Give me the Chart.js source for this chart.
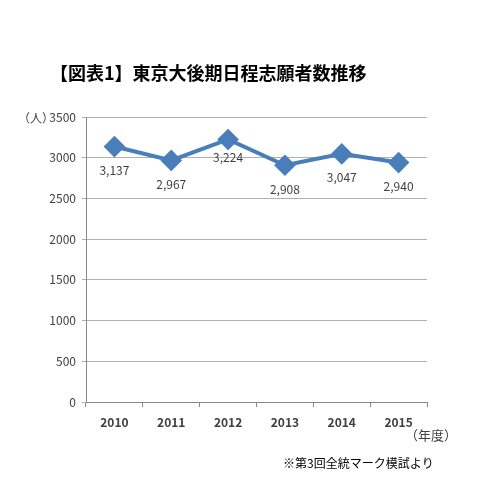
<!DOCTYPE html>
<html><head><meta charset="utf-8">
<script src="https://cdn.jsdelivr.net/npm/chart.js@4"></script>
<style>html,body{margin:0;padding:0;background:#fff}#w{width:481px;height:486px}</style>
</head><body><div id="w"><canvas id="c"></canvas></div>
<script>
const years = ['2010','2011','2012','2013','2014','2015'];
const applicants = [3137,2967,3224,2908,3047,2940];
const yTicks = [0,500,1000,1500,2000,2500,3000,3500];
const F = '"Noto Sans CJK JP", "Noto Sans", sans-serif';
const deco = {
  id:'deco',
  afterDatasetsDraw(ch){
    const c=ch.ctx, m=ch.getDatasetMeta(0);
    c.save();
    c.fillStyle='#404040'; c.font='12px '+F; c.textAlign='center'; c.textBaseline='top';
    m.data.forEach((p,i)=>{
      const s=applicants[i].toLocaleString('en-US');
      c.fillText(s,p.x,p.y+(i===2?12:18));
    });
    c.fillStyle='#000'; c.font='bold 18px '+F; c.textAlign='left'; c.textBaseline='middle';
    c.fillText('【図表1】東京大後期日程志願者数推移',50,73);
    c.fillStyle='#404040'; c.font='12px '+F;
    c.fillText('（人）',18,118);
    c.font='13px '+F;
    c.fillText('（年度）',405,435);
    c.fillStyle='#000'; c.font='12px '+F;
    c.fillText('※第3回全統マーク模試より',283,463);
    c.restore();
  }
};
new Chart(document.getElementById('c'),{
  type:'line',
  data:{labels:years,datasets:[{data:applicants,borderColor:'#4a7ebb',backgroundColor:'#4a7ebb',borderWidth:4,
    pointStyle:'rectRot',pointRadius:8,pointHoverRadius:8,tension:0}]},
  options:{responsive:true,maintainAspectRatio:false,animation:false,
    layout:{padding:{left:0,top:117,right:54,bottom:54}},
    plugins:{legend:{display:false},tooltip:{enabled:false}},
    scales:{
      x:{offset:true,grid:{display:true,drawOnChartArea:false,tickLength:5,color:'#888',offset:true},
        border:{color:'#888'},
        ticks:{color:'#404040',font:{family:F,size:12,weight:'bold'},padding:8},
        afterFit(s){s.height=30;}},
      y:{min:0,max:3500,afterBuildTicks(s){s.ticks=yTicks.map(v=>({value:v}));},
        grid:{color:'#b0b0b0',drawTicks:true,tickLength:4},border:{color:'#888'},
        ticks:{color:'#404040',font:{family:F,size:12},padding:6,callback:v=>String(v)},
        afterFit(s){s.width=86;}}
    }},
  plugins:[deco]
});
</script></body></html>
